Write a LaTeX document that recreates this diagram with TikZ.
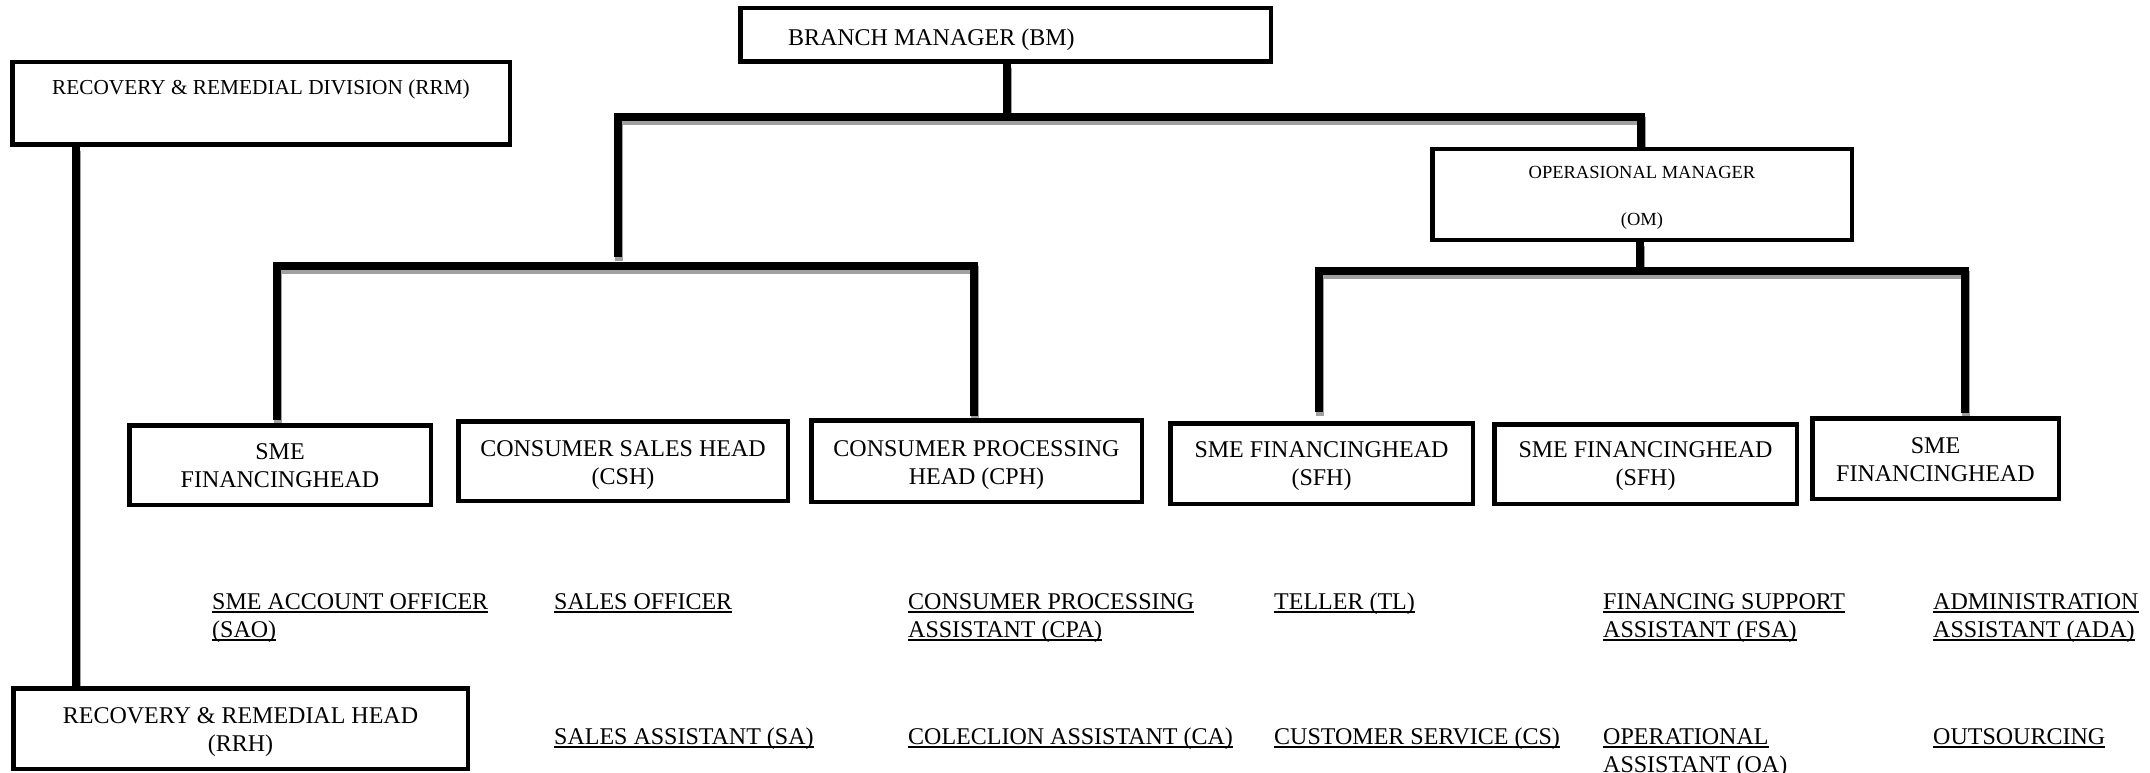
\documentclass[tikz,border=0pt]{standalone}
\usepackage{fontspec}
\setmainfont{Liberation Serif}
\usetikzlibrary{backgrounds}
\definecolor{shade}{RGB}{160,160,160}
\newcommand{\ulx}[1]{\setbox0\hbox{#1}\rlap{\rule[-4pt]{\wd0}{2pt}}\box0}
\newcommand{\btxt}[2]{\raisebox{#1}[0pt][0pt]{\begin{tabular}[t]{@{}c@{}}#2\end{tabular}}}
\newcommand{\ltxt}[1]{\begin{tabular}[t]{@{}l@{}}#1\end{tabular}}
\newcommand{\connpaths}[1]{%
  \draw[#1] (BM.south -| j1) -- (j1);
  \draw[#1] (d1) -- (j1L) -- (j1R) -- (j1R |- OM.north);
  \draw[#1, shorten <=3pt, shorten >=2pt] (SME1.north -| j2L) -- (j2L) -- (j2R) -- (j2R |- CPH.north);
  \draw[#1] (OM.south -| j3) -- (j3);
  \draw[#1, shorten <=9pt, shorten >=3pt] (SFH1.north -| j3L) -- (j3L) -- (j3R) -- (SME6.north -| j3R);
  \draw[#1] (RRM.south -| j4) -- (j4 |- RRH.north);
}
\begin{document}
\begin{tikzpicture}[x=1pt,y=-1pt,
  box/.style={draw=black, line width=4.5pt, inner sep=0pt, font=\fontsize{24}{28}\selectfont},
  lbl/.style={inner sep=0pt, anchor=base west, font=\fontsize{24}{28}\selectfont},
  conn/.style={draw=black, line width=8pt, line join=miter},
  connshadow/.style={draw=shade, line width=8pt, line join=miter}]
\useasboundingbox (0,0) rectangle (2150,773);

% boxes
\node[box, minimum width=530.5pt, minimum height=53.5pt] (BM) at (1005.5,35)
  {\raisebox{-11pt}[0pt][0pt]{\makebox[435pt][l]{BRANCH MANAGER (BM)}}};
\node[box, font=\fontsize{21.3}{25}\selectfont, minimum width=497.5pt, minimum height=82.5pt] (RRM) at (261,103.5)
  {\btxt{8.5pt}{RECOVERY \& REMEDIAL DIVISION (RRM)}};
\node[box, font=\fontsize{18.5}{46.5}\selectfont, minimum width=419.5pt, minimum height=90.5pt] (OM) at (1642,194.5)
  {\btxt{16pt}{OPERASIONAL MANAGER\\(OM)}};
\node[box, minimum width=301.5pt, minimum height=79.5pt] (SME1) at (280,465)
  {\btxt{6pt}{SME\\FINANCINGHEAD}};
\node[box, minimum width=329.5pt, minimum height=79.5pt] (CSH) at (623,461)
  {\btxt{5pt}{CONSUMER SALES HEAD\\(CSH)}};
\node[box, minimum width=330.5pt, minimum height=81.5pt] (CPH) at (976.5,461)
  {\btxt{5pt}{CONSUMER PROCESSING\\HEAD (CPH)}};
\node[box, minimum width=302.5pt, minimum height=80.5pt] (SFH1) at (1321.5,463.5)
  {\btxt{6pt}{SME FINANCINGHEAD\\(SFH)}};
\node[box, minimum width=302.5pt, minimum height=79.5pt] (SFH2) at (1645.5,464)
  {\btxt{6.5pt}{SME FINANCINGHEAD\\(SFH)}};
\node[box, minimum width=246.5pt, minimum height=80.5pt] (SME6) at (1935.5,458.5)
  {\btxt{5pt}{SME\\FINANCINGHEAD}};
\node[box, minimum width=454.5pt, minimum height=80.5pt] (RRH) at (240.5,728.5)
  {\btxt{5.5pt}{RECOVERY \& REMEDIAL HEAD\\(RRH)}};

% underlined labels
\node[lbl] (SAO) at (212,609) {\ltxt{\ulx{SME ACCOUNT OFFICER}\\\ulx{(SAO)}}};
\node[lbl] (SO)  at (554,609) {\ltxt{\ulx{SALES OFFICER}}};
\node[lbl] (CPA) at (908,609) {\ltxt{\ulx{CONSUMER PROCESSING}\\\ulx{ASSISTANT (CPA)}}};
\node[lbl] (TL)  at (1274,609) {\ltxt{\ulx{TELLER (TL)}}};
\node[lbl] (FSA) at (1603,609) {\ltxt{\ulx{FINANCING SUPPORT}\\\ulx{ASSISTANT (FSA)}}};
\node[lbl] (ADA) at (1933,609) {\ltxt{\ulx{ADMINISTRATION}\\\ulx{ASSISTANT (ADA)}}};
\node[lbl] (SA)  at (554,744) {\ltxt{\ulx{SALES ASSISTANT (SA)}}};
\node[lbl] (CA)  at (908,744) {\ltxt{\ulx{COLECLION ASSISTANT (CA)}}};
\node[lbl] (CS)  at (1274,744) {\ltxt{\ulx{CUSTOMER SERVICE (CS)}}};
\node[lbl] (OA)  at (1603,744) {\ltxt{\ulx{OPERATIONAL}\\\ulx{ASSISTANT (OA)}}};
\node[lbl] (OUT) at (1933,744) {\ltxt{\ulx{OUTSOURCING}}};

% junctions
\coordinate (j1) at (1007,117);
\coordinate (j1L) at (618,117);
\coordinate (j1R) at (1641,117);
\coordinate (d1) at (618,257);
\coordinate (j2L) at (277,266);
\coordinate (j2R) at (974,266);
\coordinate (j3) at (1640,271);
\coordinate (j3L) at (1319,271);
\coordinate (j3R) at (1965,271);
\coordinate (j4) at (76,150);

\begin{pgfonlayer}{background}
  \fill[white] (0,0) rectangle (2150,773);
  \begin{scope}[transform canvas={shift={(1pt,-4pt)}}]
    \connpaths{connshadow}
  \end{scope}
  \connpaths{conn}
\end{pgfonlayer}
\end{tikzpicture}
\end{document}
